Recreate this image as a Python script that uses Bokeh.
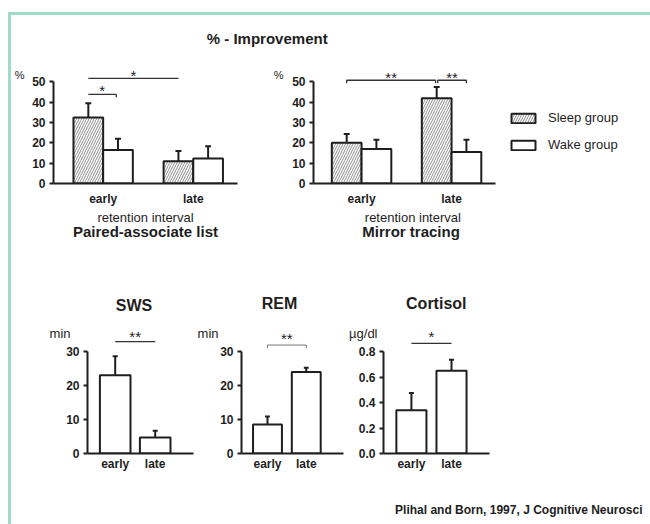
import numpy as np
from bokeh.plotting import figure
from bokeh.models import (Range1d, FixedTicker, Label, Legend, LegendItem,
                          NumeralTickFormatter, LinearAxis)
from bokeh.layouts import column, row
from bokeh.embed import file_html
from bokeh.resources import INLINE

# ---------------- data ----------------
intervals = ["early", "late"]
group_names = ["Sleep group", "Wake group"]

paired_sleep = [32.5, 11.0]
paired_sleep_sem = [7.0, 5.0]
paired_wake = [16.5, 12.3]
paired_wake_sem = [5.5, 6.0]

mirror_sleep = [20.0, 42.0]
mirror_sleep_sem = [4.3, 5.5]
mirror_wake = [17.0, 15.5]
mirror_wake_sem = [4.5, 6.0]

sws_minutes = [23.0, 4.7]
sws_sem = [5.6, 2.0]
rem_minutes = [8.5, 24.0]
rem_sem = [2.4, 1.2]
cortisol_ugdl = [0.34, 0.65]
cortisol_sem = [0.135, 0.085]

pct_ticks = [0, 10, 20, 30, 40, 50]
min_ticks = [0, 10, 20, 30]
cort_ticks = [0.0, 0.2, 0.4, 0.6, 0.8]

# significance: ((interval, group), (interval, group), label, level)
paired_sig = [((0, 0), (0, 1), "*", 43.9), ((0, 0), (1, 0), "*", 51.7)]
mirror_sig = [((0, 0), (1, 0), "**", 50.8), ((1, 0), (1, 1), "**", 50.8)]
sws_sig = (0, 1, "**", 32.9)
rem_sig = (0, 1, "**", 31.9)
cort_sig = (0, 1, "*", 0.863)

# ---------------- style ----------------
INK = "#1e1e1e"
FONT = "Liberation Sans"
GREEN = "#a0dac8"


def base_fig(w, h, bl, br, bt, bb, xr, yr):
    p = figure(width=w, height=h, x_range=Range1d(*xr), y_range=Range1d(*yr),
               output_backend="svg", toolbar_location=None,
               min_border_left=bl, min_border_right=br,
               min_border_top=bt, min_border_bottom=bb)
    p.grid.visible = False
    p.outline_line_color = None
    p.background_fill_color = "white"
    p.border_fill_color = "white"
    return p


def text_fig(w, h):
    p = figure(width=w, height=h, x_range=Range1d(0, w), y_range=Range1d(h, 0),
               output_backend="svg", toolbar_location=None,
               x_axis_location=None, y_axis_location=None, min_border=0)
    p.grid.visible = False
    p.outline_line_color = None
    return p


def style_axes(p, yticks, fmt=None, xstandoff=8, xbounds=None):
    ya = p.yaxis[0]
    ya.ticker = FixedTicker(ticks=yticks, minor_ticks=[])
    ya.bounds = (0, yticks[-1])
    ya.axis_line_width = 2
    ya.axis_line_color = INK
    ya.major_tick_line_width = 2
    ya.major_tick_line_color = INK
    ya.major_tick_out = 4
    ya.major_tick_in = 0
    ya.minor_tick_line_color = None
    ya.major_label_text_font = FONT
    ya.major_label_text_font_size = "12px"
    ya.major_label_text_font_style = "bold"
    ya.major_label_text_color = INK
    ya.major_label_standoff = 4
    if fmt:
        ya.formatter = NumeralTickFormatter(format=fmt)
    xa = p.xaxis[0]
    xa.ticker = FixedTicker(ticks=list(range(len(intervals))), minor_ticks=[])
    xa.major_label_overrides = {i: c for i, c in enumerate(intervals)}
    xa.axis_line_width = 2
    xa.axis_line_color = INK
    xa.major_tick_line_color = None
    xa.major_tick_out = 0
    xa.major_tick_in = 0
    xa.minor_tick_line_color = None
    xa.major_label_text_font = FONT
    xa.major_label_text_font_size = "12px"
    xa.major_label_text_font_style = "bold"
    xa.major_label_text_color = INK
    xa.major_label_standoff = xstandoff
    if xbounds:
        xa.bounds = xbounds


def text_axis(p, side, pos, text, standoff, size="13px", bold=False):
    """An axis without line/ticks whose only tick label is a caption."""
    ax = LinearAxis(ticker=FixedTicker(ticks=[pos], minor_ticks=[]),
                    major_label_overrides={pos: text},
                    axis_line_color=None, major_tick_line_color=None,
                    minor_tick_line_color=None, major_tick_out=0, major_tick_in=0,
                    major_label_standoff=standoff,
                    major_label_text_font=FONT, major_label_text_font_size=size,
                    major_label_text_font_style="bold" if bold else "normal",
                    major_label_text_color=INK)
    p.add_layout(ax, side)


def label(p, x, y, text, size="12px", bold=False, dx=0, dy=0, align="center", base="middle", color=INK):
    p.add_layout(Label(x=x, y=y, x_offset=dx, y_offset=dy, text=text,
                       text_font=FONT, text_font_size=size,
                       text_font_style="bold" if bold else "normal",
                       text_color=color, text_align=align, text_baseline=base))


def errbars(p, x, vals, errs, cap):
    x = np.asarray(x, float)
    tops = np.asarray(vals) + np.asarray(errs)
    p.segment(x0=x, y0=vals, x1=x, y1=tops, line_color=INK, line_width=2)
    p.segment(x0=x - cap / 2, y0=tops, x1=x + cap / 2, y1=tops, line_color=INK, line_width=2)


def grouped(p, sleep, sleep_e, wake, wake_e, bw, cap):
    xs = np.arange(len(intervals))
    rs = []
    for k, (v, e) in enumerate([(sleep, sleep_e), (wake, wake_e)]):
        x = xs + (-bw / 2 if k == 0 else bw / 2)
        kw = dict(hatch_pattern="/", hatch_color="#6e6e6e", hatch_scale=5, hatch_weight=0.8) if k == 0 else {}
        r = p.vbar(x=x, top=v, bottom=0, width=bw, fill_color="white",
                   line_color=INK, line_width=2, **kw)
        errbars(p, x, v, e, cap)
        rs.append(r)
    return rs


def single(p, vals, errs, bw, cap):
    xs = np.arange(len(intervals))
    p.vbar(x=xs, top=vals, bottom=0, width=bw, fill_color="white", line_color=INK, line_width=2)
    errbars(p, xs, vals, errs, cap)


def sig(p, x0, x1, level, text, ticks=(False, False), tick=0.0, lw=1.3, color="#333333", dy=4):
    xs, ys = [x0, x1], [level, level]
    if ticks[0]:
        xs, ys = [x0] + xs, [level - tick] + ys
    if ticks[1]:
        xs, ys = xs + [x1], ys + [level - tick]
    p.line(xs, ys, line_color=color, line_width=lw)
    label(p, (x0 + x1) / 2, level, text, size="15px", dy=dy, base="middle")


# ---------------- header ----------------
H = text_fig(639, 45)
label(H, 255.7, 23.3, "% - Improvement", size="15px", bold=True)

# ---------------- top panels ----------------
TOP_PX = 2.032          # px per % unit
top_y = (0, 123 / TOP_PX)

pxA, A_x0 = 91.1, -0.551
A = base_fig(259, 190, 40, 33, 0, 67, (A_x0, A_x0 + 186 / pxA), top_y)
style_axes(A, pct_ticks)
bwA = 30 / pxA
grouped(A, paired_sleep, paired_sleep_sem, paired_wake, paired_wake_sem, bwA, 6 / pxA)
for n, ((i0, g0), (i1, g1), txt, lev) in enumerate(paired_sig):
    xa = i0 + (-bwA / 2 if g0 == 0 else bwA / 2)
    xb = i1 + (-bwA / 2 if g1 == 0 else bwA / 2)
    first = n == 0
    sig(A, xa, xb - (0.02 if first else 0), lev, txt, ticks=(False, first),
        tick=3 / TOP_PX, dy=3.7 if first else 3)
text_axis(A, "left", 53.15, "%", 5, size="11px")
text_axis(A, "below", 0.47, "retention interval", 1, size="13px")
text_axis(A, "below", 0.47, "Paired-associate list", -5, size="15px", bold=True)

pxB, B_x0 = 90.8, -0.534
B = base_fig(380, 190, 40, 0, 0, 67, (B_x0, B_x0 + 340 / pxB), top_y)
style_axes(B, pct_ticks, xbounds=(B_x0, B_x0 + 184 / pxB))
bwB = 30 / pxB
rsB = grouped(B, mirror_sleep, mirror_sleep_sem, mirror_wake, mirror_wake_sem, bwB, 6 / pxB)
for n, ((i0, g0), (i1, g1), txt, lev) in enumerate(mirror_sig):
    xa = i0 + (-bwB / 2 if g0 == 0 else bwB / 2)
    xb = i1 + (-bwB / 2 if g1 == 0 else bwB / 2)
    gap = 0.012
    sig(B, xa + (gap if n else 0), xb - (0 if n else gap), lev, txt,
        ticks=(True, True), tick=3 / TOP_PX, dy=2.4)
text_axis(B, "left", 53.15, "%", 6, size="11px")
text_axis(B, "below", 0.57, "retention interval", 1, size="13px")
text_axis(B, "below", 0.55, "Mirror tracing", -5, size="15px", bold=True)

legend = Legend(items=[LegendItem(label=group_names[0], renderers=[rsB[0]]),
                       LegendItem(label=group_names[1], renderers=[rsB[1]])],
                location=(195, 31), orientation="vertical",
                glyph_width=30, glyph_height=12, label_height=12,
                label_standoff=10, spacing=12, padding=0, margin=0,
                border_line_color=None, background_fill_alpha=0,
                label_text_font=FONT, label_text_font_size="13px", label_text_color=INK)
B.add_layout(legend)

# ---------------- bottom panels ----------------
MIN_PX = 3.4
CORT_PX = 127.5

C_x0 = -0.6925
C = base_fig(183, 240, 76, 1, 0, 37, (C_x0, C_x0 + 106 / 40), (0, 203 / MIN_PX))
style_axes(C, min_ticks, xstandoff=3)
single(C, sws_minutes, sws_sem, 0.765, 5 / 40)
sig(C, sws_sig[0], sws_sig[1], sws_sig[3], sws_sig[2], dy=5.4)
text_axis(C, "left", 35.4, "min", -7)
label(C, 0.47, 30, "SWS", size="16px", bold=True, dy=45.7)

D_x0 = -0.67
D = base_fig(151, 240, 43, 2, 0, 37, (D_x0, D_x0 + 106 / 40.3), (0, 203 / MIN_PX))
style_axes(D, min_ticks, xstandoff=3)
single(D, rem_minutes, rem_sem, 0.745, 5 / 40.3)
sig(D, rem_sig[0], rem_sig[1], rem_sig[3], rem_sig[2], ticks=(True, True),
    tick=3 / MIN_PX, lw=1, color="#777777", dy=6.4)
text_axis(D, "left", 35.4, "min", -1)
label(D, 0.31, 30, "REM", size="16px", bold=True, dy=48)

E_x0 = -0.696
E = base_fig(305, 240, 38, 161, 0, 37, (E_x0, E_x0 + 106 / 40.1), (0, 203 / CORT_PX))
style_axes(E, cort_ticks, fmt="0.0", xstandoff=3)
single(E, cortisol_ugdl, cortisol_sem, 0.75, 5 / 40.1)
sig(E, cort_sig[0], cort_sig[1], cort_sig[3], cort_sig[2], dy=6.8)
text_axis(E, "left", 0.939, "µg/dl", -22)
label(E, 0.62, 0.8, "Cortisol", size="16px", bold=True, dy=48)

# ---------------- citation ----------------
F = text_fig(639, 34)
label(F, 631, 19, "Plihal and Born, 1997, J Cognitive Neurosci", size="12px", bold=True,
      align="right")

layout = column(H, row(A, B), row(C, D, E), F,
                styles={"border-left": f"3px solid {GREEN}",
                        "border-top": f"3px solid {GREEN}",
                        "margin-left": "8px", "margin-top": "12px"})

open("out.html", "w").write(file_html(layout, INLINE))
